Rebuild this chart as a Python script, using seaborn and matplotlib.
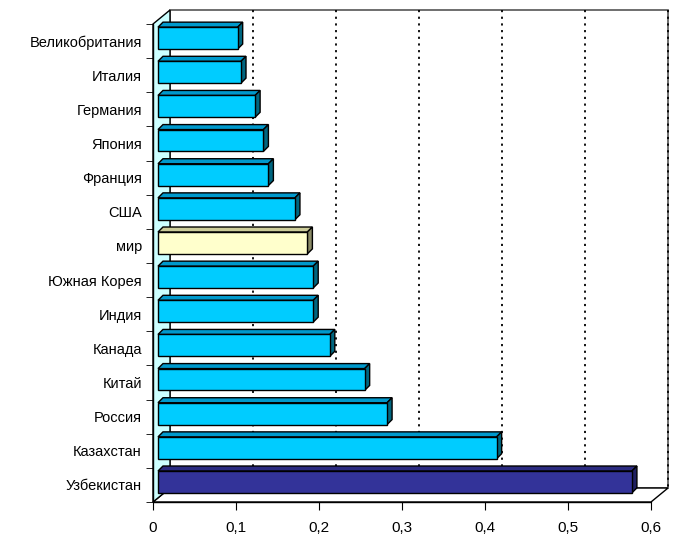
import numpy as np
import pandas as pd
import seaborn as sns
import matplotlib.pyplot as plt
from matplotlib.patches import Polygon
from matplotlib.transforms import ScaledTranslation

# data
countries = ['Великобритания', 'Италия', 'Германия', 'Япония', 'Франция', 'США', 'мир',
             'Южная Корея', 'Индия', 'Канада', 'Китай', 'Россия', 'Казахстан', 'Узбекистан']
values = [0.096, 0.100, 0.117, 0.127, 0.133, 0.165, 0.180,
          0.187, 0.187, 0.207, 0.249, 0.276, 0.408, 0.571]
xticks = [0, 0.1, 0.2, 0.3, 0.4, 0.5, 0.6]
xtick_labels = ['0', '0,1', '0,2', '0,3', '0,4', '0,5', '0,6']

# face / top / side colours
front_cols = {'мир': '#FFFFCC', 'Узбекистан': '#333399'}
top_cols = {'мир': '#CCCC99', 'Узбекистан': '#2B2B80'}
side_cols = {'мир': '#8A8A66', 'Узбекистан': '#1F1F60'}
base_front, base_top, base_side = '#00CCFF', '#0099CC', '#006680'

sns.set_style('white')
plt.rcParams['font.family'] = ['Liberation Sans', 'DejaVu Sans']

df = pd.DataFrame({'country': countries, 'value': values})
palette = {c: front_cols.get(c, base_front) for c in countries}

fig = plt.figure(figsize=(6.75, 5.38), dpi=100)
ax = fig.add_axes([153 / 675, 36 / 538, 498 / 675, 478 / 538])

sns.barplot(data=df, x='value', y='country', hue='country', palette=palette,
            orient='h', width=0.64, edgecolor='black', linewidth=1, saturation=1,
            legend=False, ax=ax, zorder=5)

ax.set_xlim(0, 0.6)
ax.set_ylim(len(countries) - 0.5, -0.5)

# pixel -> data conversions for the fake 3D depth
px_x = 0.6 / 498
px_y = 1 / 34.2
wall_dx, wall_dy = 17 * px_x, -14 * px_y
bar_dx, bar_dy = 5 * px_x, -5 * px_y
shift = ax.transData + ScaledTranslation(0.05, 0.03, fig.dpi_scale_trans)

# walls and floor
y0, y1 = -0.5, len(countries) - 0.5
left_wall = Polygon([(0, y1), (0, y0), (wall_dx, y0 + wall_dy), (wall_dx, y1 + wall_dy)],
                    closed=True, facecolor='#CCFFFF', edgecolor='black', lw=1,
                    clip_on=False, zorder=1)
back_wall = Polygon([(wall_dx, y0 + wall_dy), (0.6 + wall_dx, y0 + wall_dy),
                     (0.6 + wall_dx, y1 + wall_dy), (wall_dx, y1 + wall_dy)],
                    closed=True, facecolor='white', edgecolor='#555555', lw=1.2,
                    clip_on=False, zorder=0.5)
floor = Polygon([(0, y1), (0.6, y1), (0.6 + wall_dx, y1 + wall_dy), (wall_dx, y1 + wall_dy)],
                closed=True, facecolor='white', edgecolor='black', lw=1,
                clip_on=False, zorder=0.8)
for p in (back_wall, floor, left_wall):
    ax.add_patch(p)

for x in xticks[1:]:
    ax.plot([x + wall_dx, x + wall_dx], [y0 + wall_dy, y1 + wall_dy], color='black',
            lw=1.3, ls=(0, (1.2, 2.5)), clip_on=False, zorder=0.9)

# front axis lines
ax.plot([0, 0], [y0, y1], color='black', lw=1, clip_on=False, zorder=2)
ax.plot([0, 0.6], [y1, y1], color='black', lw=1, clip_on=False, zorder=2)

# 3D top and side faces built from each bar
for patch, c in zip(ax.patches[:len(countries)], countries):
    x, y, w, h = patch.get_x(), patch.get_y(), patch.get_width(), patch.get_height()
    patch.set_transform(shift)
    top = Polygon([(x, y), (x + w, y), (x + w + bar_dx, y + bar_dy), (x + bar_dx, y + bar_dy)],
                  closed=True, facecolor=top_cols.get(c, base_top), edgecolor='black',
                  lw=1, transform=shift, clip_on=False, zorder=4)
    side = Polygon([(x + w, y), (x + w + bar_dx, y + bar_dy), (x + w + bar_dx, y + h + bar_dy),
                    (x + w, y + h)],
                   closed=True, facecolor=side_cols.get(c, base_side), edgecolor='black',
                   lw=1, transform=shift, clip_on=False, zorder=4)
    ax.add_patch(top)
    ax.add_patch(side)

for s in ax.spines.values():
    s.set_visible(False)

ax.set_xticks(xticks)
ax.set_xticklabels(xtick_labels, fontsize=11, color='black')
ax.set_yticks(range(len(countries)))
ax.set_yticklabels(countries, fontsize=10.5, color='black')
ax.set_yticks(np.arange(-0.5, len(countries), 1), minor=True)
ax.tick_params(axis='x', which='major', bottom=True, length=6, color='black', pad=8)
ax.tick_params(axis='y', which='major', left=False, length=0, pad=8)
ax.tick_params(axis='y', which='minor', left=True, length=5, color='black')
ax.set_xlabel('')
ax.set_ylabel('')

fig.savefig('out.png', dpi=100, facecolor='white')
